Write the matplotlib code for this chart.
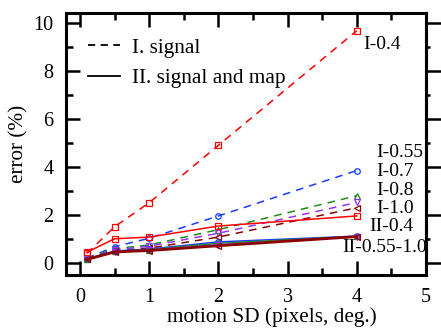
import matplotlib
matplotlib.use("Agg")
import matplotlib.pyplot as plt
from matplotlib.lines import Line2D
from matplotlib.ticker import MultipleLocator

plt.rcParams["font.family"] = ["Liberation Serif", "DejaVu Serif"]

motion_sd = [0.1, 0.5, 1, 2, 4]

# type I: signal only (dashed)
err_I_04 = [0.40, 1.51, 2.51, 4.90, 9.67]
err_I_055 = [0.20, 0.68, 1.03, 1.96, 3.85]
err_I_07 = [0.18, 0.60, 0.75, 1.39, 2.80]
err_I_08 = [0.17, 0.55, 0.70, 1.24, 2.52]
err_I_10 = [0.16, 0.50, 0.62, 1.08, 2.30]

# type II: signal and map (solid)
err_II_04 = [0.45, 1.01, 1.08, 1.54, 1.96]
err_II_055 = [0.17, 0.50, 0.58, 0.88, 1.12]
err_II_07 = [0.16, 0.48, 0.56, 0.82, 1.11]
err_II_08 = [0.15, 0.47, 0.54, 0.76, 1.10]
err_II_10 = [0.15, 0.46, 0.52, 0.72, 1.10]

labels = ["I-0.4", "I-0.55", "I-0.7", "I-0.8", "I-1.0", "II-0.4", "II-0.55-1.0"]
label_x = [4.1, 4.28, 4.28, 4.28, 4.28, 4.18, 3.79]
label_y = [9.08, 4.58, 3.83, 3.0, 2.29, 1.54, 0.63]

colors = ["#ff0000", "#1a3cff", "#1f8a1f", "#9933ff", "#8b0000"]
markers = ["s", "o", "^", "v", "<"]

fig = plt.figure(figsize=(4.41, 3.29), dpi=100)
ax = fig.add_axes([0.150, 0.164, 0.816, 0.796])

series_I = [err_I_04, err_I_055, err_I_07, err_I_08, err_I_10]
series_II = [err_II_04, err_II_055, err_II_07, err_II_08, err_II_10]
for ys, c, m in zip(series_I, colors, markers):
    ax.plot(motion_sd, ys, ls=(0, (5, 4)), color=c, lw=1.1, marker=m, ms=4,
            mfc="none", mec=c, mew=0.9)
for i, (ys, c, m) in enumerate(zip(series_II, colors, markers)):
    ax.plot(motion_sd, ys, ls="-", color=c, lw=2.0 if i == 4 else 1.1,
            marker=m, ms=4, mfc="none", mec=c, mew=0.9)

for t, x, y in zip(labels, label_x, label_y):
    ax.text(x, y, t, fontsize=14, va="center", ha="left")

ax.set_xlim(-0.2, 5.0)
ax.set_ylim(-0.5, 10.4)
ax.xaxis.set_major_locator(MultipleLocator(1))
ax.xaxis.set_minor_locator(MultipleLocator(0.5))
ax.yaxis.set_major_locator(MultipleLocator(2))
ax.yaxis.set_minor_locator(MultipleLocator(1))
ax.tick_params(which="both", direction="in", top=True, right=False,
               labelsize=14.5, width=1.8)
ax.tick_params(axis="x", pad=9)
ax.tick_params(axis="y", pad=9)
ax.tick_params(which="major", length=10)
ax.tick_params(which="minor", length=5)
for s in ax.spines.values():
    s.set_linewidth(2.2)

# right-hand ticks point outwards
sec = ax.secondary_yaxis("right")
sec.yaxis.set_major_locator(MultipleLocator(2))
sec.yaxis.set_minor_locator(MultipleLocator(1))
sec.tick_params(which="both", direction="out", labelright=False, width=1.8)
sec.tick_params(which="major", length=11)
sec.tick_params(which="minor", length=3)
sec.spines["right"].set_linewidth(2.2)

ax.set_xlabel("motion SD (pixels, deg.)", fontsize=15.3)
ax.xaxis.set_label_coords(0.572, -0.122)
ax.set_ylabel("error (%)", fontsize=15.3)
ax.yaxis.set_label_coords(-0.106, 0.5)

handles = [Line2D([], [], color="black", ls=(0, (4, 3)), lw=1.3),
           Line2D([], [], color="black", ls="-", lw=1.3)]
ax.legend(handles, ["I. signal", "II. signal and map"], loc="upper left",
          bbox_to_anchor=(0.062, 0.905), frameon=False, fontsize=15.3,
          borderpad=0, borderaxespad=0,
          handlelength=1.5, handletextpad=0.56, labelspacing=0.5)

fig.savefig("out.png", dpi=100)
